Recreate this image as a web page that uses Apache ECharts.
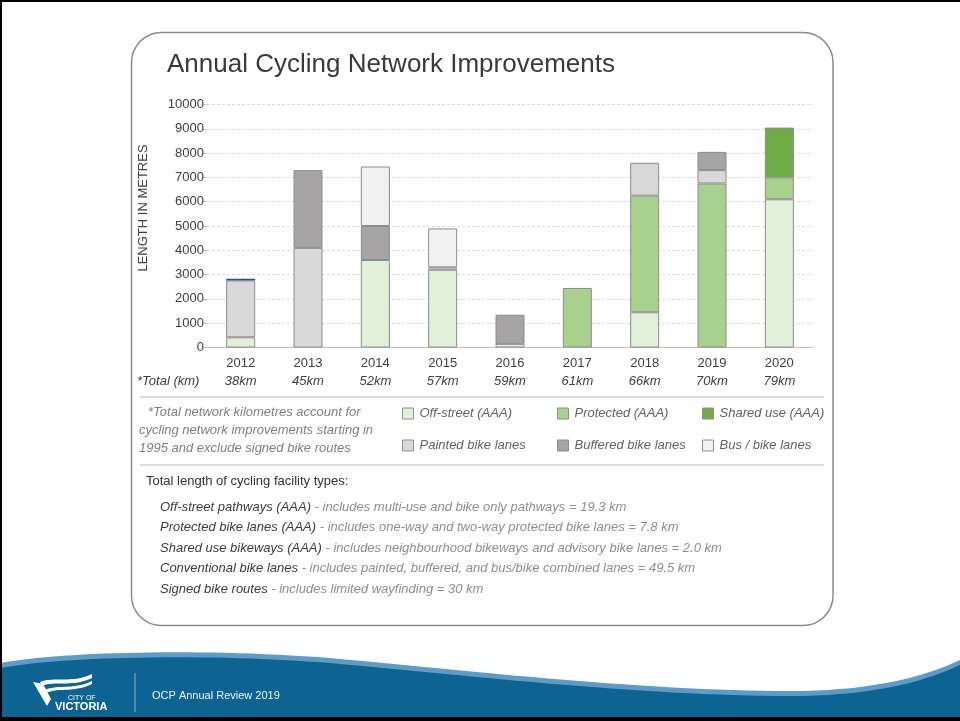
<!DOCTYPE html>
<html>
<head>
<meta charset="utf-8">
<title>Annual Cycling Network Improvements</title>
<script src="https://cdn.jsdelivr.net/npm/echarts@6.0.0/dist/echarts.min.js"></script>
<style>
  html, body { margin: 0; padding: 0; background: #fff; }
  #chart { width: 960px; height: 721px; }
</style>
</head>
<body>
<div id="chart"></div>
<script>
// values (metres)
const years = ["2012", "2013", "2014", "2015", "2016", "2017", "2018", "2019", "2020"];
const totalsKm = ["38km", "45km", "52km", "57km", "59km", "61km", "66km", "70km", "79km"];
const offStreet = [420, 0, 3600, 3200, 150, 0, 1450, 0, 6100];
const protectedLanes = [0, 0, 0, 0, 0, 2450, 4800, 6750, 900];
const sharedUse = [0, 0, 0, 0, 0, 0, 0, 0, 2050];
const painted = [2340, 4100, 0, 100, 0, 0, 1350, 550, 0];
const buffered = [0, 3200, 1400, 0, 1200, 0, 0, 750, 0];
const busBike = [0, 0, 2450, 1600, 0, 0, 0, 0, 0];
const topStripe = [70, 0, 0, 0, 0, 0, 0, 0, 0];

const yMax = 10000;
const yStep = 1000;

const noteLines = [
  "*Total network kilometres account for",
  "cycling network improvements starting in",
  "1995 and exclude signed bike routes"
];
const facilityTitle = "Total length of cycling facility types:";
const facilityLines = [
  ["Off-street pathways (AAA)", "includes multi-use and bike only pathways = 19.3 km"],
  ["Protected bike lanes (AAA)", "includes one-way and two-way protected bike lanes = 7.8 km"],
  ["Shared use bikeways (AAA)", "includes neighbourhood bikeways and advisory bike lanes = 2.0 km"],
  ["Conventional bike lanes", "includes painted, buffered, and bus/bike combined lanes = 49.5 km"],
  ["Signed bike routes", "includes limited wayfinding = 30 km"]
];

const FONT = "Liberation Sans, Arial, Helvetica, sans-serif";
const EDGE = "#8c8c8c";

function stackSeries(name, values, color, border) {
  return {
    name: name,
    type: "bar",
    stack: "total",
    barWidth: 29,
    itemStyle: { color: color, borderColor: border === null ? color : EDGE, borderWidth: border === null ? 0 : 1 },
    emphasis: { disabled: true },
    data: values.map(v => (v ? v : "-"))
  };
}

const series = [
  stackSeries("Off-street (AAA)", offStreet, "#e2efd9"),
  stackSeries("Protected (AAA)", protectedLanes, "#a9d18e"),
  stackSeries("Shared use (AAA)", sharedUse, "#6fac46"),
  stackSeries("Painted bike lanes", painted, "#d9d9d9"),
  stackSeries("Buffered bike lanes", buffered, "#a6a4a4"),
  stackSeries("Bus / bike lanes", busBike, "#f2f2f2"),
  stackSeries("stripe", topStripe, "#34507f", null)
];

// legend laid out as a 3 x 2 grid, one legend per cell
const legendCells = [
  ["Off-street (AAA)", 402, 407],
  ["Protected (AAA)", 557, 407],
  ["Shared use (AAA)", 702, 407],
  ["Painted bike lanes", 402, 439],
  ["Buffered bike lanes", 557, 439],
  ["Bus / bike lanes", 702, 439]
];
const legends = legendCells.map(c => ({
  data: [c[0]],
  left: c[1],
  top: c[2],
  padding: 0,
  icon: "rect",
  itemWidth: 11,
  itemHeight: 11,
  itemGap: 5,
  selectedMode: false,
  itemStyle: { borderWidth: 1, borderColor: "#8f8f8f" },
  textStyle: { fontFamily: FONT, fontSize: 13, fontStyle: "italic", color: "#626262", padding: [0, 0, 0, 1] }
}));

// cubic bezier -> point list (for the footer wave and logo)
function bez(p0, p1, p2, p3, n) {
  const pts = [];
  for (let i = 0; i <= n; i++) {
    const t = i / n, u = 1 - t;
    pts.push([
      u * u * u * p0[0] + 3 * u * u * t * p1[0] + 3 * u * t * t * p2[0] + t * t * t * p3[0],
      u * u * u * p0[1] + 3 * u * u * t * p1[1] + 3 * u * t * t * p2[1] + t * t * t * p3[1]
    ]);
  }
  return pts;
}
function wave(dy) {
  const s = (p) => [p[0], p[1] + dy];
  let pts = bez(s([0, 663]), s([60, 652]), s([200, 648]), s([330, 658]), 30);
  pts = pts.concat(bez(s([330, 658]), s([480, 672]), s([650, 691]), s([790, 691]), 30));
  pts = pts.concat(bez(s([790, 691]), s([880, 691]), s([930, 674]), s([960, 660]), 20));
  pts.push([960, 717], [0, 717]);
  return pts;
}

const graphic = [];
// page frame
graphic.push({ type: "rect", shape: { x: 0, y: 0, width: 960, height: 2 }, style: { fill: "#000" }, silent: true });
graphic.push({ type: "rect", shape: { x: 0, y: 0, width: 2, height: 721 }, style: { fill: "#000" }, silent: true });
// rounded panel
graphic.push({
  type: "rect", z: -10,
  shape: { x: 131.5, y: 32.5, width: 701.5, height: 593, r: 30 },
  style: { fill: "#fff", stroke: "#8a8a8a", lineWidth: 1.5 }, silent: true
});
graphic.push({
  type: "text", x: 167, y: 65,
  style: { text: "Annual Cycling Network Improvements", fontFamily: FONT, fontSize: 26, fill: "#3a3a3a", verticalAlign: "middle" }
});
graphic.push({
  type: "text", x: 143, y: 208, rotation: Math.PI / 2,
  style: { text: "LENGTH IN METRES", fontFamily: FONT, fontSize: 13, fill: "#404040", align: "center", verticalAlign: "middle" }
});
graphic.push({
  type: "text", x: 137, y: 381,
  style: { text: "*Total (km)", fontFamily: FONT, fontSize: 13, fontStyle: "italic", fill: "#404040", verticalAlign: "middle" }
});
// dividers
[397, 465].forEach(y => graphic.push({
  type: "line", shape: { x1: 140, y1: y, x2: 824, y2: y },
  style: { stroke: "#dcdcdc", lineWidth: 2 }, silent: true
}));
noteLines.forEach((t, i) => graphic.push({
  type: "text", x: i === 0 ? 148 : 139, y: 412 + i * 18,
  style: { text: t, fontFamily: FONT, fontSize: 13, fontStyle: "italic", fill: "#7f7f7f", verticalAlign: "middle" }
}));
graphic.push({
  type: "text", x: 146, y: 481,
  style: { text: facilityTitle, fontFamily: FONT, fontSize: 13, fill: "#333", verticalAlign: "middle" }
});
facilityLines.forEach((l, i) => graphic.push({
  type: "text", x: 160, y: 507 + i * 20.5,
  style: {
    text: "{a|" + l[0] + "}{b| - " + l[1] + "}",
    verticalAlign: "middle",
    rich: {
      a: { fontFamily: FONT, fontSize: 13, fontStyle: "italic", fill: "#3c3c3c" },
      b: { fontFamily: FONT, fontSize: 13, fontStyle: "italic", fill: "#8e8e8e" }
    }
  }
}));

// footer wave
graphic.push({ type: "polygon", z: -5, silent: true, shape: { points: wave(0) }, style: { fill: "#5d9cc6" } });
graphic.push({ type: "polygon", z: -4, silent: true, shape: { points: wave(5) }, style: { fill: "#0d6391" } });
graphic.push({ type: "rect", shape: { x: 0, y: 717, width: 960, height: 4 }, style: { fill: "#000" }, silent: true });
// logo
graphic.push({
  type: "polygon", silent: true,
  shape: { points: [[33, 682], [43, 684], [51, 699], [47, 706]] },
  style: { fill: "#fff" }
});
graphic.push({
  type: "polygon", silent: true,
  shape: { points: bez([40, 682], [55, 676], [70, 684], [92, 674], 16).concat(bez([92, 678], [70, 688], [55, 680], [42, 686], 16)) },
  style: { fill: "#fff" }
});
graphic.push({
  type: "polygon", silent: true,
  shape: { points: bez([44, 690], [60, 684], [74, 690], [92, 681], 16).concat(bez([92, 684], [74, 693], [60, 687], [46, 693], 16)) },
  style: { fill: "#fff" }
});
graphic.push({
  type: "text", x: 68, y: 698,
  style: { text: "CITY OF", fontFamily: FONT, fontSize: 7, fill: "#fff", verticalAlign: "middle" }
});
graphic.push({
  type: "text", x: 55, y: 707,
  style: { text: "VICTORIA", fontFamily: FONT, fontSize: 11, fontWeight: "bold", fill: "#fff", verticalAlign: "middle" }
});
graphic.push({
  type: "line", shape: { x1: 135, y1: 673, x2: 135, y2: 712 },
  style: { stroke: "#8db6d2", lineWidth: 1 }, silent: true
});
graphic.push({
  type: "text", x: 152, y: 696,
  style: { text: "OCP Annual Review 2019", fontFamily: FONT, fontSize: 11, fill: "#eef3f7", verticalAlign: "middle" }
});

const chart = echarts.init(document.getElementById("chart"));
chart.setOption({
  animation: false,
  backgroundColor: "#fff",
  textStyle: { fontFamily: FONT },
  grid: { left: 207, right: 147, top: 104.5, bottom: 373.5 },
  legend: legends,
  xAxis: {
    type: "category",
    data: years,
    axisLine: { lineStyle: { color: "#bfbfbf", width: 1 } },
    axisTick: { show: false },
    axisLabel: {
      margin: 7,
      formatter: (v, i) => "{y|" + v + "}\n{k|" + totalsKm[i] + "}",
      rich: {
        y: { fontFamily: FONT, fontSize: 13, color: "#404040", lineHeight: 18 },
        k: { fontFamily: FONT, fontSize: 13, fontStyle: "italic", color: "#404040", lineHeight: 18 }
      }
    }
  },
  yAxis: {
    type: "value",
    min: 0,
    max: yMax,
    interval: yStep,
    axisLine: { show: false },
    axisTick: { show: true, length: 4, lineStyle: { color: "#c8c8c8" } },
    axisLabel: { margin: 3, fontFamily: FONT, fontSize: 13, color: "#404040", formatter: v => String(v) },
    splitLine: { lineStyle: { color: "#dadada", type: [3, 2] } }
  },
  series: series,
  graphic: graphic
});
</script>
</body>
</html>
